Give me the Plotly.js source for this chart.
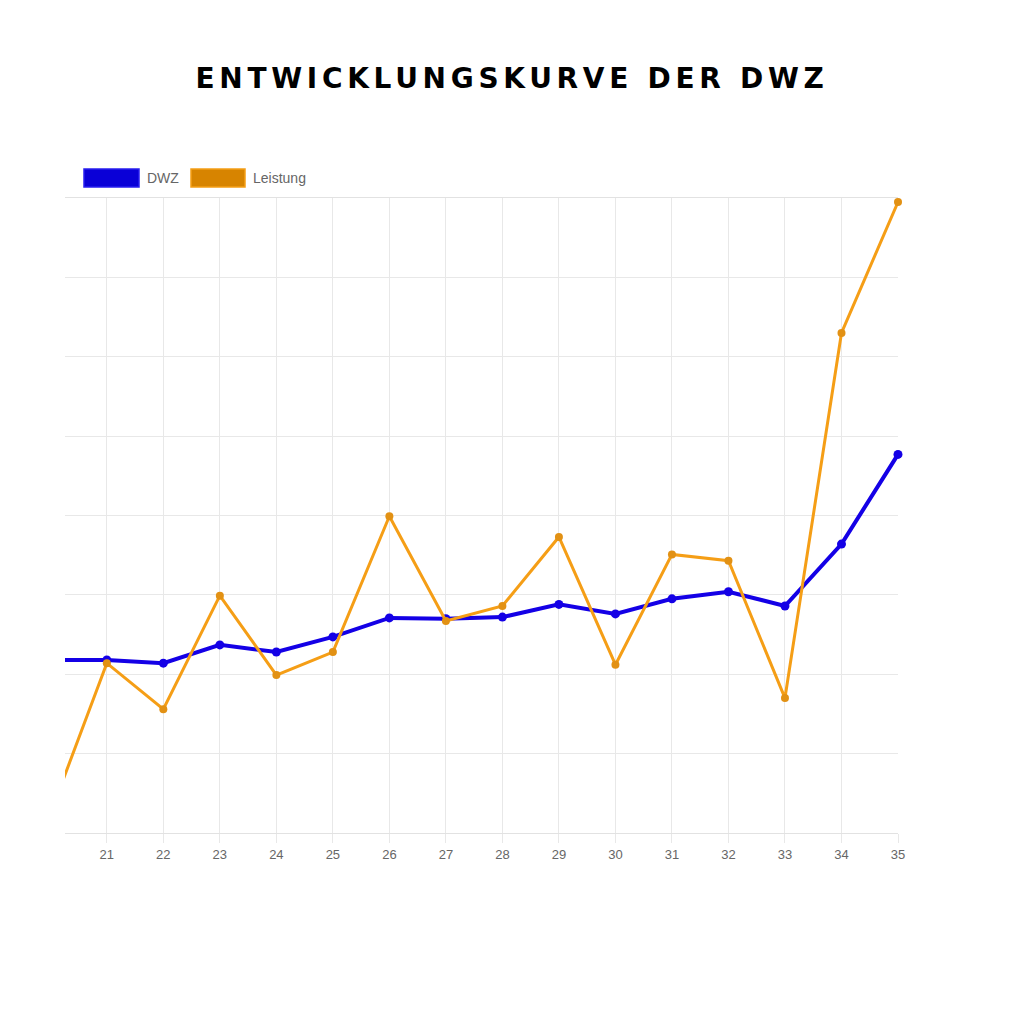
<!DOCTYPE html>
<html>
<head>
<meta charset="utf-8">
<script src="https://cdn.plot.ly/plotly-3.0.1.min.js"></script>
<style>
  html, body { margin: 0; padding: 0; background: #fff; }
  #plot { width: 1024px; height: 1024px; }
  .gtitle { letter-spacing: 4.7px; }
</style>
</head>
<body>
<div id="plot"></div>
<script>
// game number and ratings (y, arbitrary units)
const games = [20, 21, 22, 23, 24, 25, 26, 27, 28, 29, 30, 31, 32, 33, 34, 35];
const dwz = [218, 218, 214, 237, 228, 247, 271, 270, 272, 288, 276, 295, 304, 286, 364, 477];
const leistung = [24, 214, 156, 299, 199, 228, 399, 267, 286, 373, 212, 351, 343, 170, 630, 795];
const seriesNames = ['DWZ', 'Leistung'];

const BLUE = 'rgb(20, 0, 230)';
const ORANGE = 'rgb(245, 158, 22)';

const traceDwz = {
  x: games,
  y: dwz,
  name: seriesNames[0],
  mode: 'lines+markers',
  type: 'scatter',
  cliponaxis: false,
  line: { color: BLUE, width: 4 },
  marker: { color: BLUE, size: 9 },
};

const traceLeistung = {
  x: games,
  y: leistung,
  name: seriesNames[1],
  mode: 'lines+markers',
  type: 'scatter',
  cliponaxis: false,
  line: { color: ORANGE, width: 3 },
  marker: { color: 'rgb(226, 145, 20)', size: 8 },
};

const GRID = '#e8e8e8';

const layout = {
  width: 1024,
  height: 1024,
  paper_bgcolor: '#fff',
  plot_bgcolor: '#fff',
  showlegend: false,
  font: { family: 'Liberation Sans, Arial, sans-serif', color: '#666' },
  title: {
    text: 'ENTWICKLUNGSKURVE DER DWZ',
    font: { family: 'DejaVu Sans, sans-serif', size: 28, color: '#000', weight: 'bold' },
    x: 0.5,
    xanchor: 'center',
    y: 1 - 78 / 1024,
    yanchor: 'middle',
  },
  margin: { l: 65, r: 126, t: 198, b: 191 },
  xaxis: {
    range: [20.26, 35],
    tick0: 21,
    dtick: 1,
    gridcolor: GRID,
    zeroline: false,
    showline: true,
    mirror: true,
    linecolor: '#e2e2e2',
    linewidth: 1,
    ticks: 'outside',
    ticklen: 9,
    tickcolor: GRID,
    tickfont: { size: 13, color: '#666' },
  },
  yaxis: {
    range: [0, 800],
    dtick: 100,
    gridcolor: GRID,
    zeroline: false,
    showline: false,
    showticklabels: false,
  },
  shapes: [
    {
      type: 'rect', xref: 'paper', yref: 'paper',
      x0: (84 - 65) / 833, x1: (139 - 65) / 833,
      y0: (833 - 187) / 635, y1: (833 - 169) / 635,
      fillcolor: 'rgb(10, 0, 215)', line: { color: 'rgb(40, 30, 240)', width: 1.5 },
    },
    {
      type: 'rect', xref: 'paper', yref: 'paper',
      x0: (191 - 65) / 833, x1: (245 - 65) / 833,
      y0: (833 - 187) / 635, y1: (833 - 169) / 635,
      fillcolor: 'rgb(215, 132, 0)', line: { color: ORANGE, width: 1.5 },
    },
  ],
  annotations: [
    {
      xref: 'paper', yref: 'paper', showarrow: false,
      x: (145 - 65) / 833, y: (833 - 178) / 635, xanchor: 'left', yanchor: 'middle',
      text: seriesNames[0], font: { size: 14, color: '#666' },
    },
    {
      xref: 'paper', yref: 'paper', showarrow: false,
      x: (251 - 65) / 833, y: (833 - 178) / 635, xanchor: 'left', yanchor: 'middle',
      text: seriesNames[1], font: { size: 14, color: '#666' },
    },
  ],
};

const config = { displayModeBar: false, staticPlot: true };

Plotly.newPlot('plot', [traceDwz, traceLeistung], layout, config);
</script>
</body>
</html>
